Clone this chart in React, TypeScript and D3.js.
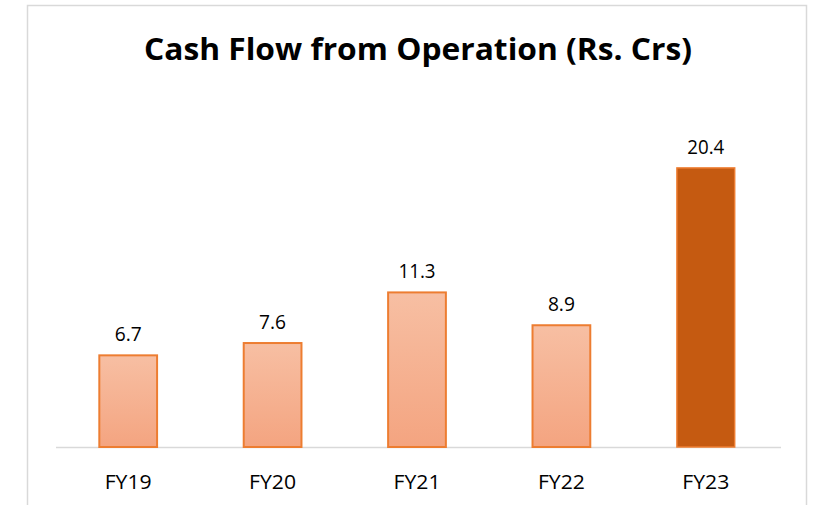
import React from "react";
import * as d3 from "d3";

const categories = ["FY19", "FY20", "FY21", "FY22", "FY23"];
const values = [6.7, 7.6, 11.3, 8.9, 20.4];
const highlight = ["FY23"];
const title = "Cash Flow from Operation (Rs. Crs)";

const W = 820;
const H = 505;

export default function App() {
  const x = d3.scaleBand<string>().domain(categories).range([56, 778]).paddingInner(0.6).paddingOuter(0.3);
  const y = d3.scaleLinear().domain([0, 25]).range([447, 105]);
  const bw = x.bandwidth();
  return (
    <svg width={W} height={H} style={{ position: "absolute", left: 0, top: 0, background: "#fff" }}>
      <defs>
        <linearGradient id="barGrad" x1="0" y1="0" x2="0" y2="1">
          <stop offset="0%" stopColor="#F7BFA3" />
          <stop offset="100%" stopColor="#F4A480" />
        </linearGradient>
      </defs>
      <rect x={27.5} y={5.5} width={779} height={520} fill="#fff" stroke="#D9D9D9" strokeWidth={1.5} />
      <text
        x={418}
        y={60}
        textAnchor="middle"
        fontFamily="'Open Sans', sans-serif"
        fontWeight={700}
        fontSize={30}
        textLength={548}
        lengthAdjust="spacingAndGlyphs"
        fill="#000"
      >
        {title}
      </text>
      <line x1={56} x2={781} y1={447.5} y2={447.5} stroke="#D9D9D9" strokeWidth={1.5} />
      {categories.map((c, i) => {
        const v = values[i];
        const bx = x(c)!;
        const top = y(v);
        const hi = highlight.includes(c);
        return (
          <g key={c}>
            <rect
              x={bx}
              y={top}
              width={bw}
              height={y(0) - top}
              fill={hi ? "#C55A11" : "url(#barGrad)"}
              stroke="#ED7D31"
              strokeWidth={hi ? 1.5 : 2}
            />
            <text
              x={bx + bw / 2}
              y={top - 14}
              textAnchor="middle"
              fontFamily="'Open Sans', sans-serif"
              fontSize={20}
              textLength={v >= 10 ? 37 : 27}
              lengthAdjust="spacingAndGlyphs"
              fill="#000"
            >
              {v.toFixed(1)}
            </text>
            <text
              x={bx + bw / 2}
              y={489}
              textAnchor="middle"
              fontFamily="'Open Sans', sans-serif"
              fontSize={20}
              textLength={47}
              lengthAdjust="spacingAndGlyphs"
              fill="#000"
            >
              {c}
            </text>
          </g>
        );
      })}
    </svg>
  );
}
